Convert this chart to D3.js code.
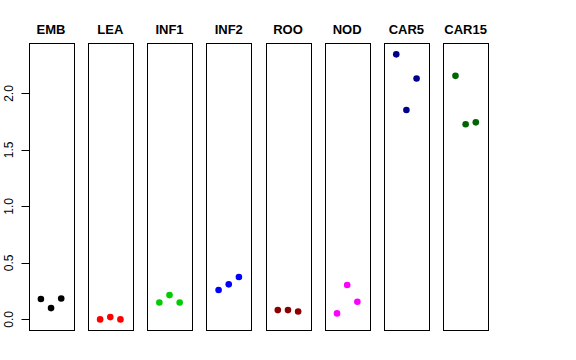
<!DOCTYPE html>
<html>
<head>
<meta charset="utf-8">
<script src="https://cdn.jsdelivr.net/npm/d3@7.9.0/dist/d3.min.js"></script>
<style>
  body { margin: 0; background: #fff; }
  svg { display: block; font-family: "Liberation Sans", Arial, sans-serif; }
</style>
</head>
<body>
<svg id="chart" width="576" height="360"></svg>
<script>
// tissues and their point colours
const tissues = ['EMB', 'LEA', 'INF1', 'INF2', 'ROO', 'NOD', 'CAR5', 'CAR15'];
const colors = ['#000000', '#ff0000', '#00cd00', '#0000ff', '#8b0000', '#ff00ff', '#00008b', '#006400'];

// three replicate values per tissue
const rep1 = [0.18, 0.00, 0.15, 0.26, 0.082, 0.053, 2.346, 2.156];
const rep2 = [0.10, 0.02, 0.215, 0.31, 0.082, 0.305, 1.853, 1.727];
const rep3 = [0.185, 0.00, 0.15, 0.375, 0.07, 0.156, 2.132, 1.744];

const yTicks = [0, 0.5, 1, 1.5, 2];
const yTickLabels = ['0.0', '0.5', '1.0', '1.5', '2.0'];

const svg = d3.select('#chart');

const panel = d3.scaleBand()
  .domain(tissues)
  .range([28.7, 488])
  .paddingInner(0.245)
  .paddingOuter(0);

const y = d3.scaleLinear().domain([-0.094, 2.444]).range([330, 43.3]);
const x = d3.scaleLinear().domain([-0.2, 4.2]).range([0, panel.bandwidth()]);

let points = [];
tissues.forEach((t, i) => {
  [rep1[i], rep2[i], rep3[i]].forEach((v, j) => {
    points.push({ tissue: t, rep: j + 1, value: v, color: colors[i] });
  });
});

// panel boxes
tissues.forEach((t) => {
  svg.append('rect')
    .attr('x', Math.round(panel(t)) + 0.5)
    .attr('y', 43.5)
    .attr('width', Math.round(panel.bandwidth()))
    .attr('height', 287)
    .attr('fill', 'none')
    .attr('stroke', '#000')
    .attr('stroke-width', 1);

  svg.append('text')
    .attr('x', panel(t) + panel.bandwidth() / 2)
    .attr('y', 34.3)
    .attr('text-anchor', 'middle')
    .attr('font-size', 13)
    .attr('font-weight', 'bold')
    .text(t);
});

// y axis on the left of the first panel
const axis = svg.append('g').attr('transform', 'translate(29.5,0)');
axis.append('line')
  .attr('y1', y(0)).attr('y2', y(2))
  .attr('stroke', '#000');
yTicks.forEach((v, i) => {
  axis.append('line')
    .attr('x1', -8).attr('x2', 0)
    .attr('y1', Math.round(y(v)) + 0.5).attr('y2', Math.round(y(v)) + 0.5)
    .attr('stroke', '#000');
  axis.append('text')
    .attr('transform', `translate(-16.5,${y(v)}) rotate(-90)`)
    .attr('text-anchor', 'middle')
    .attr('font-size', 12)
    .text(yTickLabels[i]);
});

// points
svg.append('g').selectAll('circle')
  .data(points)
  .join('circle')
  .attr('cx', (d) => panel(d.tissue) + x(d.rep))
  .attr('cy', (d) => y(d.value))
  .attr('r', 3.3)
  .attr('fill', (d) => d.color);
</script>
</body>
</html>
